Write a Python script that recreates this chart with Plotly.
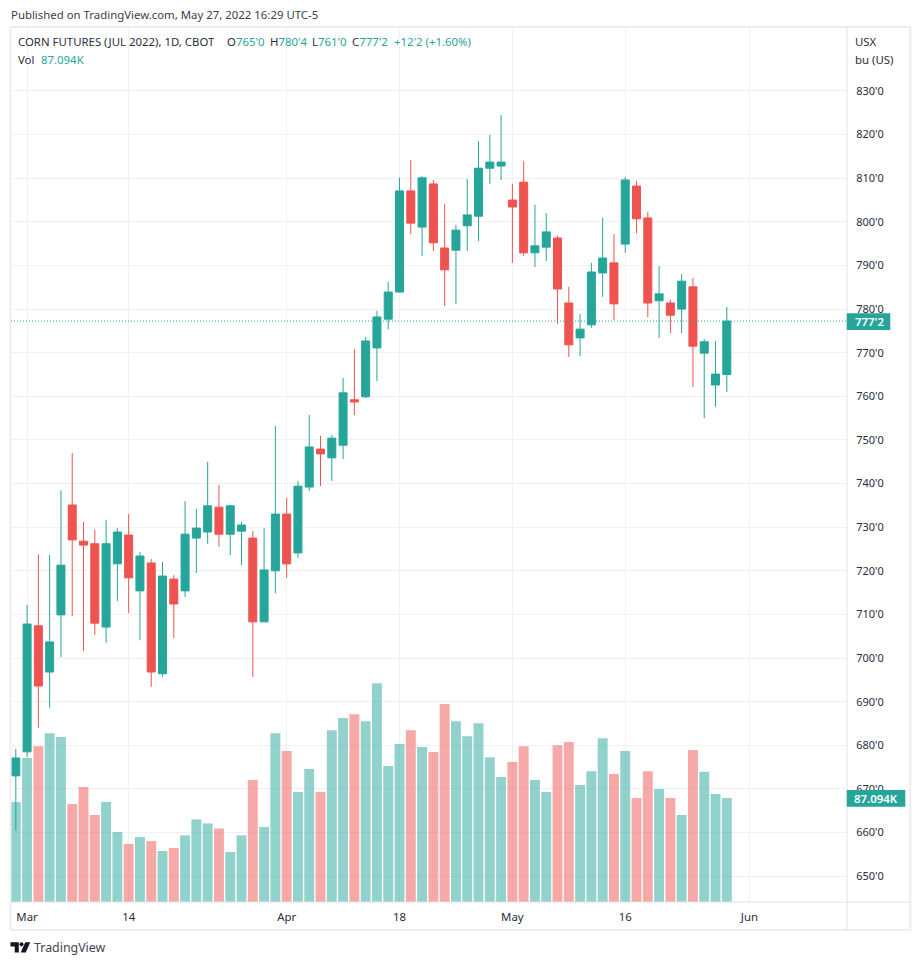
import plotly.graph_objects as go
import pandas as pd

# trading sessions (Good Friday and Memorial Day closed), plus blank future sessions
sessions = [d.strftime("%Y-%m-%d") for d in pd.bdate_range("2022-02-28", "2022-06-30")
            if d.strftime("%Y-%m-%d") not in ("2022-04-15", "2022-05-30", "2022-06-20")][:76]
dates = sessions[:64]

high = [679.2,712.2,723.8,723.6,738.5,747.0,731.2,729.4,731.7,729.8,733.0,724.3,722.7,722.0,719.0,736.0,
        734.2,745.0,739.7,735.1,731.2,729.1,729.8,753.2,736.7,740.6,755.7,750.9,751.1,764.2,770.8,773.6,
        779.6,786.2,810.1,814.2,810.5,809.6,804.1,799.3,809.8,818.5,819.9,824.5,808.7,813.9,803.9,802.0,
        796.8,785.1,778.9,790.6,800.9,797.2,810.3,809.4,802.3,789.9,782.1,788.0,787.1,773.1,772.7,780.5]
low = [660.4,677.3,684.0,688.6,700.2,709.6,701.6,705.3,703.5,713.1,710.3,704.1,693.4,695.7,704.6,714.0,
       719.5,726.2,725.5,723.6,721.3,695.7,708.3,714.9,718.4,722.9,738.3,739.4,740.6,745.6,755.7,759.6,
       763.5,775.4,783.9,797.2,792.2,793.3,780.7,781.2,793.3,795.6,808.7,809.6,790.6,792.2,789.6,791.0,
       776.6,769.0,769.2,775.7,782.8,777.5,792.9,797.4,778.2,773.4,774.5,774.5,762.1,755.0,757.6,761.0]
open_ = [673.0,678.5,707.4,696.8,709.9,735.1,726.8,726.2,707.1,721.6,728.2,715.4,721.8,696.4,718.1,715.4,
         727.5,728.9,734.6,728.4,729.1,727.5,708.3,720.0,733.0,724.1,739.2,747.9,745.9,748.8,759.2,759.9,
         771.1,777.7,783.9,807.1,798.8,808.7,794.0,793.5,799.1,801.3,812.3,812.8,805.0,809.1,792.9,794.2,
         796.3,781.4,773.4,776.4,788.3,790.6,794.9,808.2,800.9,781.9,781.4,780.0,785.1,769.9,762.6,765.0]
close = [677.1,707.8,693.6,703.7,721.3,727.1,725.9,708.0,726.2,728.9,718.4,723.4,696.8,718.8,712.4,728.4,
         729.8,734.9,728.4,734.9,730.5,708.3,720.2,733.0,721.6,739.4,748.4,746.8,750.4,760.8,758.7,772.7,
         778.2,783.9,807.1,799.7,810.1,795.2,789.0,798.1,801.6,812.3,813.7,813.7,803.4,792.9,794.5,797.7,
         784.6,771.8,775.4,788.5,791.7,781.2,809.6,800.7,781.4,783.5,778.6,786.4,771.5,772.5,765.1,777.25]
volume_k = [83.7,120.5,130.5,141.4,138.1,82.1,96.3,72.9,83.7,58.6,48.6,54.4,51.0,42.7,45.2,55.8,
            69.2,65.8,61.6,41.9,55.8,102.2,62.8,141.4,126.4,92.1,111.4,92.1,143.9,154.0,157.3,151.4,
            183.3,114.0,132.3,143.9,129.8,125.6,165.8,151.4,138.9,149.8,121.3,104.7,117.2,130.5,102.2,92.1,
            131.3,133.9,97.9,109.6,137.2,107.1,126.4,87.1,109.6,94.6,87.1,72.9,127.2,109.0,90.5,87.094]

price_ticks = list(range(650, 840, 10))
price_tick_text = [f"{t}'0" for t in price_ticks]
date_ticks = ["2022-03-01", "2022-03-14", "2022-04-01", "2022-04-18", "2022-05-02", "2022-05-16", "2022-06-01"]
date_tick_text = ["Mar", "14", "Apr", "18", "May", "16", "Jun"]

UP, DOWN = "#26a69a", "#ef5350"
TEXT = "#2a2e39"
GRID = "#f1f1f4"
LINE = "#e0e3eb"
FONT = "Noto Sans"
FS = 11.4

L, R, T, B = 10.5, 846.7, 27.0, 902.0
def px(x): return (x - L) / (R - L)
def py(y): return (B - y) / (B - T)

bar_colors = ["rgba(38,166,154,0.5)" if c >= o else "rgba(239,83,80,0.5)" for o, c in zip(open_, close)]

fig = go.Figure()
fig.add_trace(go.Bar(x=dates, y=volume_k, marker=dict(color=bar_colors, line_width=0), yaxis="y", xaxis="x", showlegend=False))
fig.add_trace(go.Candlestick(x=dates, open=open_, high=high, low=low, close=close, yaxis="y2", xaxis="x",
                             increasing=dict(line=dict(color=UP, width=1), fillcolor=UP),
                             decreasing=dict(line=dict(color=DOWN, width=1), fillcolor=DOWN),
                             showlegend=False))

def rect(x0, y0, x1, y1, fill=None, line=None, w=1, layer="above"):
    return dict(type="rect", xref="paper", yref="paper", x0=px(x0), x1=px(x1), y0=py(y0), y1=py(y1),
                fillcolor=fill or "rgba(0,0,0,0)", line=dict(color=line or "rgba(0,0,0,0)", width=w if line else 0), layer=layer)
def seg(x0, y0, x1, y1, color, w=1, dash="solid"):
    return dict(type="line", xref="paper", yref="paper", x0=px(x0), x1=px(x1), y0=py(y0), y1=py(y1),
                line=dict(color=color, width=w, dash=dash), layer="above")
def poly(points, color):
    d = "M" + " L".join(f"{px(x):.5f},{py(y):.5f}" for x, y in points) + " Z"
    return dict(type="path", xref="paper", yref="paper", path=d, fillcolor=color, line=dict(width=0), layer="above")

LOGO = "#131722"
shapes = [
    rect(10, 27, 910, 930, line="#eeeef2", w=2),
    seg(R, 27, R, 930, LINE),
    seg(10, B, 909, B, LINE),
    dict(type="line", xref="paper", yref="y2", x0=0, x1=1, y0=close[-1], y1=close[-1],
         line=dict(color=UP, width=1, dash="1px,2px"), layer="above"),
    rect(846.5, 313.3, 890, 330, fill=UP),
    rect(846.5, 790, 905, 806.7, fill=UP),
    poly([(10, 942.3), (18.3, 942.3), (18.3, 952.6), (14.2, 952.6), (14.2, 946.4), (10, 946.4)], LOGO),
    dict(type="circle", xref="paper", yref="paper", x0=px(19), x1=px(23), y0=py(942.3), y1=py(946.4),
         fillcolor=LOGO, line=dict(width=0), layer="above"),
    poly([(24.8, 942.3), (29.8, 942.3), (25.2, 952.6), (20.2, 952.6)], LOGO),
]

def label(x, y, text, color=TEXT, size=FS, anchor="left", weight=None):
    off = -2 if anchor == "left" else 0
    return dict(xref="paper", yref="paper", x=px(x + off), y=py(y), text=text, showarrow=False, xanchor=anchor, yanchor="middle",
                font=dict(family=FONT, size=size, color=color, weight=weight), align="left")

def teal(s): return f'<span style="color:{UP}">{s}</span>'

annotations = [
    label(10, 14.5, "Published on TradingView.com, May 27, 2022 16:29 UTC-5", color="#3a3e4a"),
    label(18, 41.5, "CORN FUTURES (JUL 2022), 1D, CBOT"),
    label(226.7, 41.5, "O" + teal("765'0")),
    label(269.3, 41.5, "H" + teal("780'4")),
    label(311.3, 41.5, "L" + teal("761'0")),
    label(351.7, 41.5, "C" + teal("777'2")),
    label(393.3, 41.5, teal("+12'2 (+1.60%)")),
    label(18, 59, "Vol"),
    label(41, 59, teal("87.094K")),
    label(854.3, 41, "USX"),
    label(854.3, 59.5, "bu (US)"),
    label(869, 321.5, "777'2", color="#ffffff", anchor="center", weight=600),
    label(875.5, 798, "87.094K", color="#ffffff", anchor="center", weight=600),
    label(33.5, 947, "TradingView", color="#434651", size=12.4),
]

fig.update_layout(
    width=920, height=965, autosize=False,
    margin=dict(l=L, r=920 - R, t=T, b=965 - B, pad=0),
    paper_bgcolor="white", plot_bgcolor="white",
    bargap=0.12, boxgap=0.29, boxgroupgap=0,
    font=dict(family=FONT, size=FS, color=TEXT),
    shapes=shapes, annotations=annotations,
    xaxis=dict(type="category", categoryorder="array", categoryarray=sessions, range=[-0.425, 73.65],
               tickmode="array", tickvals=date_ticks, ticktext=date_tick_text, tickangle=0,
               showgrid=True, gridcolor=GRID, gridwidth=1, zeroline=False, showline=False,
               ticks="outside", ticklen=4, tickcolor="rgba(0,0,0,0)",
               rangeslider=dict(visible=False), tickfont=dict(family=FONT, size=FS, color=TEXT)),
    yaxis=dict(range=[0, 732.8], visible=False, showgrid=False, zeroline=False),
    yaxis2=dict(overlaying="y", side="right", anchor="x", range=[644.08, 844.67],
                tickmode="array", tickvals=price_ticks, ticktext=price_tick_text,
                showgrid=True, gridcolor=GRID, gridwidth=1, zeroline=False, showline=False,
                ticks="outside", ticklen=6, tickcolor="rgba(0,0,0,0)",
                tickfont=dict(family=FONT, size=11, color=TEXT)),
)

fig.write_html("out.html", config=dict(displayModeBar=False),
               post_script="document.body.style.margin='0';document.body.style.overflow='hidden';")
